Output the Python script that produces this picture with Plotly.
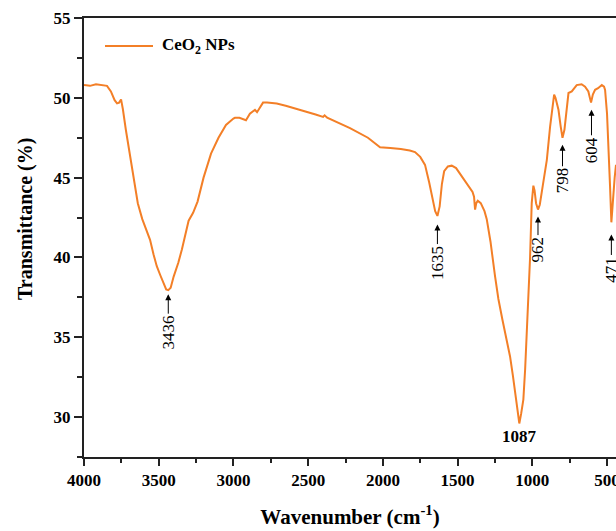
import plotly.graph_objects as go

wavenumber = [4000, 3960, 3920, 3880, 3846, 3820, 3795, 3779, 3765, 3752, 3740, 3720, 3700, 3680,
              3660, 3640, 3610, 3580, 3558, 3535, 3513, 3490, 3469, 3450, 3436, 3420, 3400, 3369,
              3345, 3324, 3300, 3270, 3240, 3200, 3150, 3100, 3050, 3000, 2990, 2960, 2916, 2890,
              2856, 2842, 2802, 2775, 2710, 2650, 2554, 2450, 2400, 2390, 2373, 2300, 2220, 2100,
              2019, 1950, 1880, 1820, 1785, 1750, 1718, 1690, 1665, 1650, 1635, 1620, 1605, 1590,
              1565, 1539, 1510, 1480, 1440, 1400, 1390, 1383, 1375, 1365, 1345, 1320, 1305, 1280,
              1249, 1227, 1200, 1182, 1160, 1149, 1130, 1115, 1100, 1087, 1075, 1060, 1048, 1037,
              1026, 1015, 1004, 993, 985, 975, 962, 950, 930, 903, 881, 865, 854, 845, 825, 810,
              798, 785, 774, 765, 758, 736, 720, 703, 670, 647, 625, 607, 595, 580, 560, 535, 520,
              513, 500, 491, 480, 471, 462, 455, 449, 440]
transmittance = [50.8, 50.75, 50.85, 50.8, 50.75, 50.4, 49.85, 49.65, 49.7, 49.9, 49.3, 48.0, 46.8, 45.5,
                 44.4, 43.4, 42.4, 41.7, 41.1, 40.2, 39.45, 38.9, 38.4, 38.0, 37.95, 38.1, 38.8, 39.67,
                 40.5, 41.3, 42.3, 42.8, 43.5, 45.0, 46.5, 47.5, 48.3, 48.7, 48.75, 48.75, 48.6, 49.0,
                 49.25, 49.1, 49.7, 49.7, 49.65, 49.5, 49.25, 48.95, 48.8, 48.9, 48.75, 48.45, 48.1, 47.5,
                 46.9, 46.85, 46.8, 46.7, 46.6, 46.3, 45.8, 44.7, 43.6, 42.9, 42.6, 43.2, 44.6, 45.4,
                 45.7, 45.75, 45.6, 45.2, 44.6, 44.1, 43.8, 43.0, 43.4, 43.55, 43.4, 42.9, 42.4, 41.0,
                 38.8, 37.4, 36.1, 35.3, 34.4, 33.8, 32.6, 31.5, 30.4, 29.6, 30.2, 31.1, 33.0, 35.3,
                 37.4, 40.0, 43.4, 44.5, 44.2, 43.4, 43.0, 43.3, 44.5, 46.1, 48.2, 49.6, 50.2, 50.0, 49.25, 48.2,
                 47.5, 48.0, 48.8, 49.8, 50.3, 50.4, 50.6, 50.8, 50.85, 50.7, 50.4, 49.7, 50.2, 50.5, 50.6, 50.8, 50.7,
                 50.5, 49.0, 47.2, 44.5, 42.2, 43.5, 44.6, 45.0, 45.8]

peak_labels = ["3436", "1635", "962", "798", "604", "471"]
peak_x = [3436, 1635, 962, 798, 604, 471]
peak_tip_y = [37.7, 42.06, 42.56, 47.06, 49.25, 41.44]
peak_offset = [38, 38, 33, 36, 40, 35]

main_peak_label = "1087"
main_peak_x = 1087
main_peak_y = 28.8

series_name = "CeO<sub>2</sub> NPs"
x_ticks = [4000, 3500, 3000, 2500, 2000, 1500, 1000, 500]
y_ticks = [30, 35, 40, 45, 50, 55]

FONT = "Liberation Serif, Times New Roman, serif"
ORANGE = "#F37F27"
AXIS = "#222222"

fig = go.Figure()
fig.add_trace(go.Scatter(x=wavenumber, y=transmittance, mode="lines", name=series_name,
                         line=dict(color=ORANGE, width=2), showlegend=False))

annotations = []
for lab, px, py, off in zip(peak_labels, peak_x, peak_tip_y, peak_offset):
    annotations.append(dict(x=px, y=py, xref="x", yref="y", text=lab, textangle=-90,
                            showarrow=True, ax=0, ay=off, arrowhead=2, arrowsize=1.2,
                            arrowwidth=1, arrowcolor="black", standoff=0,
                            font=dict(family=FONT, size=17, color="black")))
annotations.append(dict(x=main_peak_x, y=main_peak_y, xref="x", yref="y", text=main_peak_label,
                        showarrow=False, font=dict(family=FONT, size=17, color="black", weight="bold")))
# legend text
annotations.append(dict(x=0.1429, y=0.936, xref="paper", yref="paper", text=series_name,
                        xanchor="left", yanchor="middle", showarrow=False,
                        font=dict(family=FONT, size=17, color="black", weight="bold")))
# y-axis title
annotations.append(dict(x=-0.111, y=0.542, xref="paper", yref="paper", text="Transmittance (%)",
                        textangle=-90, showarrow=False, xanchor="center", yanchor="middle",
                        font=dict(family=FONT, size=20, color="black", weight="bold")))

fig.update_layout(
    width=616, height=531,
    margin=dict(l=84, r=0, t=18, b=74, autoexpand=False),
    plot_bgcolor="white", paper_bgcolor="white",
    annotations=annotations,
    shapes=[dict(type="line", xref="paper", yref="paper", x0=0.0395, x1=0.1297, y0=0.936, y1=0.936,
                 line=dict(color=ORANGE, width=2))],
    xaxis=dict(range=[4000, 440], tickvals=x_ticks, ticks="outside", ticklen=7, tickwidth=2,
               tickcolor=AXIS, showline=True, linewidth=2, linecolor=AXIS, mirror=True,
               showgrid=False, zeroline=False, ticklabeloverflow="allow", automargin=False,
               minor=dict(dtick=250, tick0=0, ticks="outside", ticklen=4, tickwidth=2, tickcolor=AXIS),
               tickfont=dict(family=FONT, size=17, color="black", weight="bold"),
               title=dict(text="Wavenumber (cm<sup>-1</sup>)", standoff=20,
                          font=dict(family=FONT, size=21, color="black", weight="bold"))),
    yaxis=dict(range=[27.5, 55], tickvals=y_ticks, ticks="outside", ticklen=8, tickwidth=2,
               tickcolor=AXIS, showline=True, linewidth=2, linecolor=AXIS, mirror=False,
               showgrid=False, zeroline=False, automargin=False,
               minor=dict(dtick=2.5, tick0=0, ticks="outside", ticklen=5, tickwidth=2, tickcolor=AXIS),
               tickfont=dict(family=FONT, size=17, color="black", weight="bold")),
)

fig.write_html("out.html")
